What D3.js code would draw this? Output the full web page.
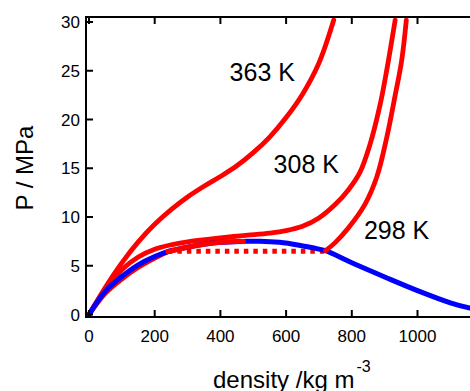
<!DOCTYPE html>
<html>
<head>
<meta charset="utf-8">
<script src="https://cdn.jsdelivr.net/npm/d3@7"></script>
<style>
  html, body { margin: 0; padding: 0; background: #fff; }
  svg { display: block; }
  text { font-family: "Liberation Sans", Arial, sans-serif; fill: #000; }
</style>
</head>
<body>
<svg id="chart" width="470" height="391"></svg>
<script>
// ---- data (density kg/m^3, pressure MPa) ----
const xTicks = [0, 200, 400, 600, 800, 1000];
const yTicks = [0, 5, 10, 15, 20, 25, 30];

const iso363 = [[0,0],[50,2.8],[100,5.3],[150,7.45],[200,9.25],[250,10.75],[300,12.05],[350,13.15],[400,14.15],[450,15.25],[500,16.6],[550,18.2],[600,20.2],[650,22.6],[700,25.8],[745,30.2]];
const iso308 = [[0,0],[50,2.6],[100,4.6],[150,5.9],[200,6.7],[250,7.15],[300,7.45],[400,7.85],[470,8.1],[550,8.35],[600,8.6],[650,9.05],[700,9.9],[750,11.3],[790,12.8],[825,14.6],[855,17.4],[886,21.5],[906,25.0],[932,30.2]];
const iso298Vapor = [[0,0],[50,2.2],[100,3.65],[150,4.85],[200,5.8],[240,6.45]];
const iso298Meta = [[240,6.45],[300,6.9],[350,7.2],[400,7.4],[470,7.5]];
const iso298Tie = [[240,6.5],[720,6.5]];
const iso298Liquid = [[720,6.55],[750,7.4],[790,8.9],[840,11.3],[876,14.1],[906,18.1],[931,22.3],[952,26.1],[966,30.2]];
const modelBlue = [[0,0],[50,2.4],[100,3.9],[150,5.1],[200,5.95],[240,6.45],[300,6.9],[350,7.2],[400,7.4],[470,7.5],[520,7.52],[580,7.4],[640,7.1],[700,6.7],[720,6.55],[800,5.3],[900,3.85],[1000,2.45],[1100,1.2],[1160,0.65],[1200,0.4]];

const labels = [
  {text: "363 K", d: 428, p: 24.0},
  {text: "308 K", d: 562, p: 14.5},
  {text: "298 K", d: 837, p: 7.7}
];

// ---- layout ----
const svg = d3.select("#chart");
const x = d3.scaleLinear().domain([0, 1000]).range([89, 417.5]);
const y = d3.scaleLinear().domain([0, 30]).range([314.5, 22]);
const pL = 86, pR = 470, pT = 17, pB = 317;

svg.append("defs").append("clipPath").attr("id", "clip")
  .append("rect").attr("x", pL).attr("y", pT).attr("width", pR - pL + 20).attr("height", pB - pT);

const line = d3.line().x(d => x(d[0])).y(d => y(d[1])).curve(d3.curveCatmullRom.alpha(0.5));
const g = svg.append("g").attr("clip-path", "url(#clip)");

const red = "#ff0000", blue = "#0000ff";
function draw(data, color, w, dash) {
  const p = g.append("path").attr("d", line(data)).attr("fill", "none")
    .attr("stroke", color).attr("stroke-width", w).attr("stroke-linejoin", "round");
  if (dash) p.attr("stroke-dasharray", dash).attr("stroke-linecap", "butt");
  else p.attr("stroke-linecap", "round");
}
draw(iso363, red, 4.8);
draw(iso308, red, 4.8);
draw(iso298Vapor, red, 5);
draw(iso298Tie, red, 5, "4.5,5");
draw(modelBlue, blue, 5);
draw(iso298Meta, red, 5);
draw(iso298Liquid, red, 4.8);

// ---- axes (inward ticks) ----
const ax = svg.append("g");
const tickLen = 7;
ax.append("line").attr("x1", pL).attr("x2", pL).attr("y1", pT).attr("y2", pB).attr("stroke", "#000").attr("stroke-width", 2);
ax.append("line").attr("x1", pL - 1).attr("x2", pR + 5).attr("y1", pB).attr("y2", pB).attr("stroke", "#000").attr("stroke-width", 2);
ax.append("line").attr("x1", pL - 1).attr("x2", pR + 5).attr("y1", pT).attr("y2", pT).attr("stroke", "#000").attr("stroke-width", 2);

yTicks.forEach(t => {
  ax.append("line").attr("x1", pL).attr("x2", pL + tickLen).attr("y1", y(t)).attr("y2", y(t)).attr("stroke", "#000").attr("stroke-width", 2);
  ax.append("text").attr("x", 80).attr("y", y(t)).attr("dy", "0.36em").attr("text-anchor", "end")
    .attr("font-size", 17).text(t);
});
xTicks.forEach(t => {
  ax.append("line").attr("x1", x(t)).attr("x2", x(t)).attr("y1", pB).attr("y2", pB - tickLen).attr("stroke", "#000").attr("stroke-width", 2);
  ax.append("line").attr("x1", x(t)).attr("x2", x(t)).attr("y1", pT).attr("y2", pT + tickLen).attr("stroke", "#000").attr("stroke-width", 2);
  ax.append("text").attr("x", x(t)).attr("y", 341.5).attr("text-anchor", "middle")
    .attr("font-size", 17).text(t);
});

// ---- axis titles ----
const xt = svg.append("text").attr("x", 213).attr("y", 388).attr("font-size", 24);
xt.append("tspan").text("density /kg m");
xt.append("tspan").attr("font-size", 16).attr("dx", 2).attr("dy", -16).text("-3");

svg.append("text").attr("transform", "translate(33,168) rotate(-90)")
  .attr("text-anchor", "middle").attr("font-size", 24).text("P / MPa");

// ---- curve labels ----
labels.forEach(l => {
  svg.append("text").attr("x", x(l.d)).attr("y", y(l.p)).attr("font-size", 25).text(l.text);
});
</script>
</body>
</html>
